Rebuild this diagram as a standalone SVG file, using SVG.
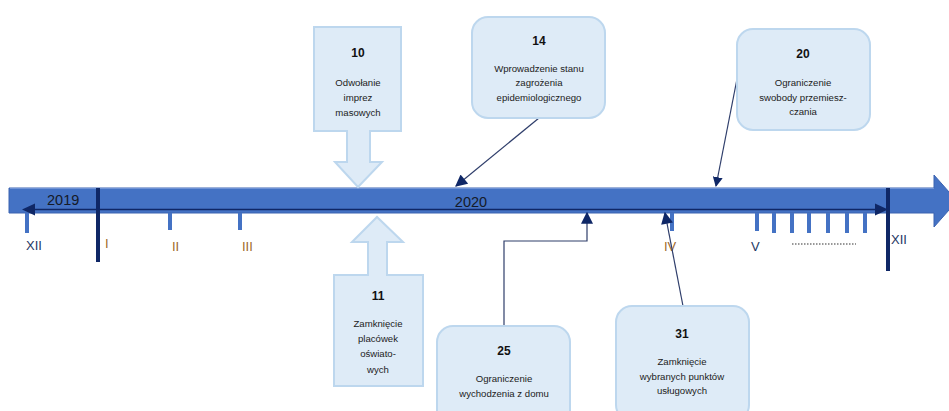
<svg xmlns="http://www.w3.org/2000/svg" width="949" height="411" viewBox="0 0 949 411">
<style>
.box{fill:#DEEBF7;stroke:#BDD7EE;stroke-width:2}
.num{font-family:"Liberation Sans",Arial,sans-serif;font-weight:bold;font-size:12px;fill:#111;text-anchor:middle}
.txt{font-family:"Liberation Sans",Arial,sans-serif;font-size:9.6px;fill:#222;text-anchor:middle}
.tick{fill:#4472C4}
.bar{fill:#0F2766}
.rom{font-family:"Liberation Sans",Arial,sans-serif;font-size:13px}
.conn{stroke:#2F3E6B;stroke-width:1.2;fill:none}
</style>
<defs>
<marker id="ah" viewBox="0 0 10 10" refX="9" refY="5" markerWidth="10" markerHeight="10" markerUnits="userSpaceOnUse" orient="auto">
<path d="M0,0 L10,5 L0,10 Z" fill="#0F2766"/>
</marker>
<marker id="ahBig" viewBox="0 0 10 10" refX="9" refY="5" markerWidth="13" markerHeight="12" markerUnits="userSpaceOnUse" orient="auto">
<path d="M0,0 L10,5 L0,10 Z" fill="#0F2766"/>
</marker>
</defs>

<g id="timeline">
<path d="M9,188 H934 V175 L957,201 L934,227 V213 H9 Z" fill="#4472C4" stroke="#3A62B0" stroke-width="1"/>
<line x1="10" y1="188.5" x2="934" y2="188.5" stroke="#6F93D6" stroke-width="1"/>
<line x1="34" y1="209.5" x2="876" y2="209.5" stroke="#0F2766" stroke-width="1.3"/>
<path d="M22,209.5 L35,203.5 L35,215.5 Z" fill="#0F2766"/>
<path d="M888,209.5 L875,203.5 L875,215.5 Z" fill="#0F2766"/>
<text x="47" y="205" font-family="Liberation Sans,Arial,sans-serif" font-size="14.5" fill="#151a28">2019</text>
<text x="471" y="207" font-family="Liberation Sans,Arial,sans-serif" font-size="14.5" fill="#151a28" text-anchor="middle">2020</text>
</g>

<g id="ticks">
<rect class="tick" x="25" y="213" width="4" height="20"/>
<rect class="tick" x="168" y="213" width="4" height="17"/>
<rect class="tick" x="238" y="213" width="4" height="17"/>
<rect class="tick" x="670" y="213" width="4" height="18"/>
<rect class="tick" x="755" y="213" width="4" height="18"/>
<rect class="tick" x="772" y="213" width="4" height="20"/>
<rect class="tick" x="790" y="213" width="4" height="20"/>
<rect class="tick" x="807" y="213" width="4" height="20"/>
<rect class="tick" x="826" y="213" width="4" height="20"/>
<rect class="tick" x="845" y="213" width="4" height="20"/>
<rect class="tick" x="863" y="213" width="4" height="20"/>
<rect class="bar" x="96" y="188" width="4" height="74"/>
<rect class="bar" x="886" y="188" width="4" height="83"/>
</g>

<g id="labels">
<text class="rom" x="26" y="250" fill="#1F3864">XII</text>
<text class="rom" x="105" y="248" fill="#A0692A">I</text>
<text class="rom" x="172" y="251" fill="#A0692A">II</text>
<text class="rom" x="242" y="251" fill="#A0692A">III</text>
<text class="rom" x="664" y="251" fill="#A0692A">IV</text>
<text class="rom" x="751" y="251" fill="#1F3864">V</text>
<text class="rom" x="891" y="244" fill="#1F3864">XII</text>
<line x1="792" y1="244" x2="856" y2="244" stroke="#333" stroke-width="1.2" stroke-dasharray="1.5,1.5"/>
</g>

<g id="connectors">
<line class="conn" x1="539" y1="118" x2="456" y2="186" marker-end="url(#ahBig)"/>
<line class="conn" x1="737" y1="79" x2="716" y2="186" marker-end="url(#ah)"/>
<polyline class="conn" points="504,326 504,241 587,241 587,213" marker-end="url(#ahBig)"/>
<line class="conn" x1="683" y1="306" x2="665" y2="213" marker-end="url(#ahBig)"/>
</g>

<g id="n10">
<path class="box" d="M314,27 H401 V131 H370 V162 H382 L358,187 L335,162 H347 V131 H314 Z"/>
<text class="num" x="358" y="57">10</text>
<text class="txt" x="358" y="86">Odwołanie</text>
<text class="txt" x="358" y="101">imprez</text>
<text class="txt" x="358" y="116">masowych</text>
</g>

<g id="n11">
<path class="box" d="M334,275 H368 V242 H352 L377,217 L403,242 H387 V275 H423 V386 H334 Z"/>
<text class="num" x="378" y="300">11</text>
<text class="txt" x="378" y="327">Zamknięcie</text>
<text class="txt" x="378" y="342">placówek</text>
<text class="txt" x="378" y="357">oświato-</text>
<text class="txt" x="378" y="373">wych</text>
</g>

<g id="n14">
<rect class="box" x="472" y="17" width="133" height="101" rx="16"/>
<text class="num" x="539" y="45">14</text>
<text class="txt" x="539" y="72">Wprowadzenie stanu</text>
<text class="txt" x="539" y="86">zagrożenia</text>
<text class="txt" x="539" y="101">epidemiologicznego</text>
</g>

<g id="n20">
<rect class="box" x="737" y="29" width="133" height="101" rx="16"/>
<text class="num" x="803" y="58">20</text>
<text class="txt" x="803" y="86">Ograniczenie</text>
<text class="txt" x="803" y="101">swobody przemiesz-</text>
<text class="txt" x="803" y="115">czania</text>
</g>

<g id="n25">
<rect class="box" x="437" y="326" width="133" height="101" rx="16"/>
<text class="num" x="504" y="355">25</text>
<text class="txt" x="504" y="382">Ograniczenie</text>
<text class="txt" x="504" y="397">wychodzenia z domu</text>
</g>

<g id="n31">
<rect class="box" x="616" y="306" width="133" height="115" rx="16"/>
<text class="num" x="682" y="338">31</text>
<text class="txt" x="682" y="365">Zamknięcie</text>
<text class="txt" x="682" y="380">wybranych punktów</text>
<text class="txt" x="682" y="394">usługowych</text>
</g>
</svg>
